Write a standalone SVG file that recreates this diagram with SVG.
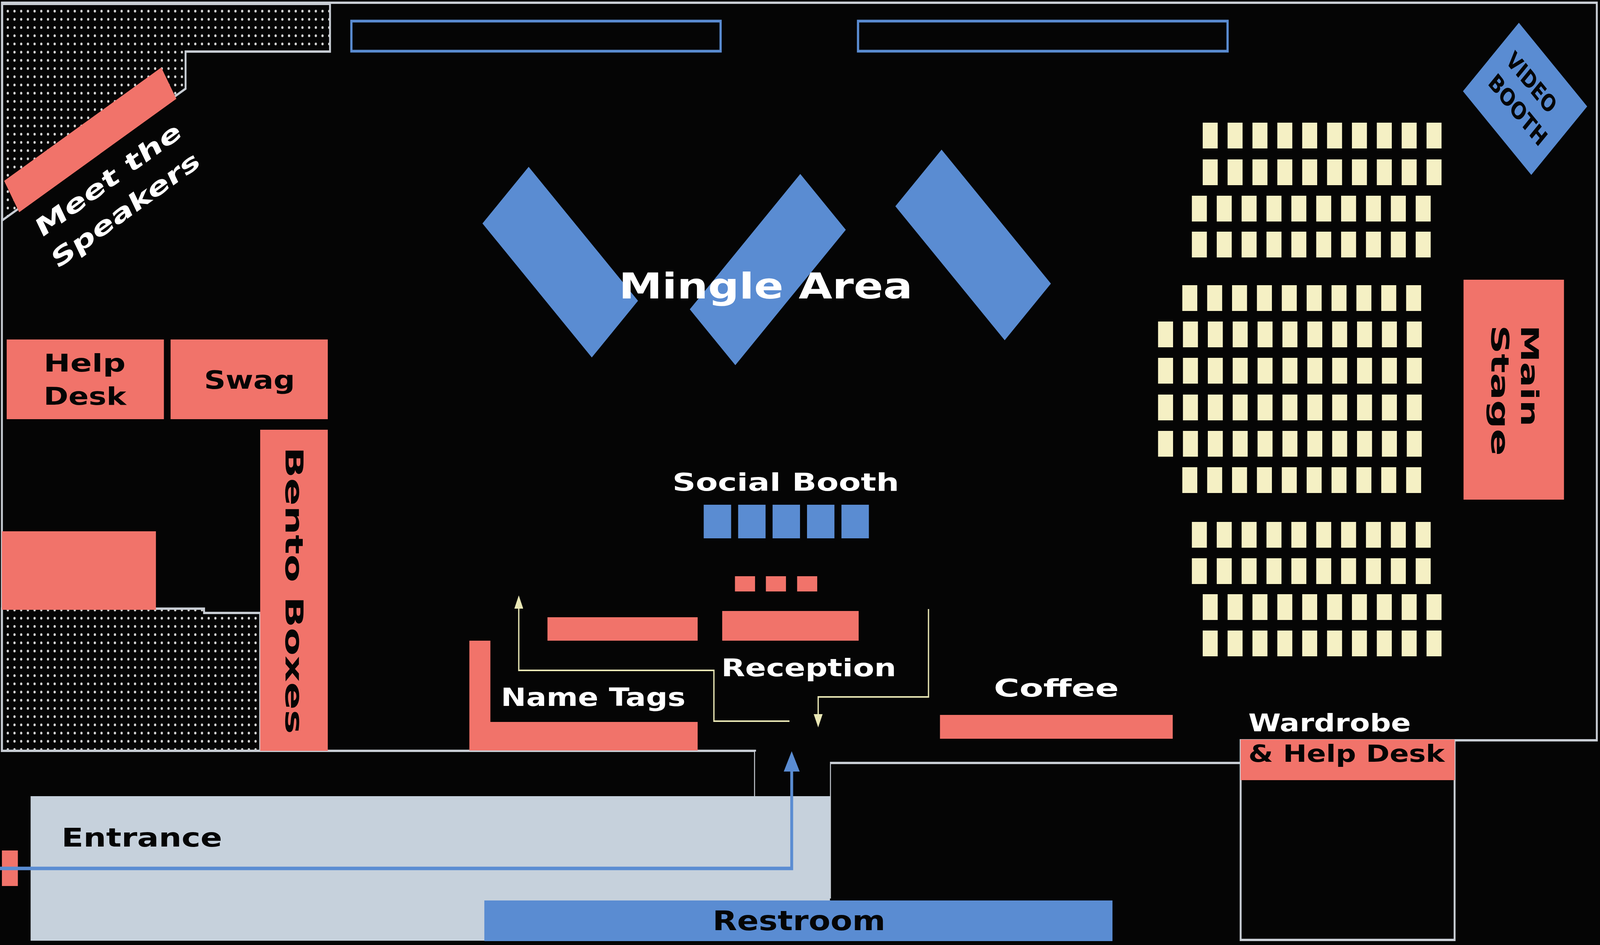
<svg xmlns="http://www.w3.org/2000/svg" xmlns:xlink="http://www.w3.org/1999/xlink" width="5018" height="2419" viewBox="0 0 5018 2419" preserveAspectRatio="none">
<defs>
<style>
svg{width:100vw;height:100vh;background:#050505}
.pink{fill:#F1736A}
.blue{fill:#5A8CD2}
.chair{fill:#F5F0C4}
.wall{fill:none;stroke:#C8CDD4;stroke-width:6}
.dotted{fill:url(#dots);stroke:#C8CDD4;stroke-width:6}
.frame{fill:none;stroke:#5A8CD2;stroke-width:7}
.lbl{font-family:"DejaVu Sans","Liberation Sans",sans-serif;font-weight:bold}
.w{fill:#FFFFFF}
.k{fill:#050505}
.path-blue{fill:none;stroke:#5A8CD2;stroke-width:9}
.path-yel{fill:none;stroke:#E9E7B5;stroke-width:4}
</style>
<pattern id="dots" patternUnits="userSpaceOnUse" x="14" y="18" width="21" height="21">
<rect width="21" height="21" fill="#050505"/>
<circle cx="10.5" cy="10.5" r="3.5" fill="#D6D6D6"/>
</pattern>
<marker id="arrowBlue" markerUnits="userSpaceOnUse" viewBox="0 0 52 50" markerWidth="52" markerHeight="50" refX="2" refY="25" orient="auto">
<path d="M0,0 L52,25 L0,50 Z" fill="#5A8CD2"/>
</marker>
<marker id="arrowYel" markerUnits="userSpaceOnUse" viewBox="0 0 34 28" markerWidth="34" markerHeight="28" refX="1" refY="14" orient="auto">
<path d="M0,0 L34,14 L0,28 Z" fill="#E9E7B5"/>
</marker>
<g id="row10">
<rect class="chair" x="0" y="0" width="47" height="66"/><rect class="chair" x="78" y="0" width="47" height="66"/><rect class="chair" x="156" y="0" width="47" height="66"/><rect class="chair" x="234" y="0" width="47" height="66"/><rect class="chair" x="312" y="0" width="47" height="66"/><rect class="chair" x="390" y="0" width="47" height="66"/><rect class="chair" x="468" y="0" width="47" height="66"/><rect class="chair" x="546" y="0" width="47" height="66"/><rect class="chair" x="624" y="0" width="47" height="66"/><rect class="chair" x="702" y="0" width="47" height="66"/>
</g>
<g id="row11">
<use href="#row10" xlink:href="#row10"/><rect class="chair" x="780" y="0" width="47" height="66"/>
</g>
</defs>

<rect x="0" y="0" width="5018" height="2419" fill="#050505"/>

<g id="walls">
<polygon class="dotted" points="7,10 1035,10 1035,132 582,132 582,227 7,564"/>
<polygon class="dotted" points="6,1558 640,1558 640,1569 816,1569 816,1922 6,1922"/>
<path class="wall" d="M3,7 H5008 V1895 H4562 M3891,1953 H2603 V2300 M2368,2038 V1922 H6 V7"/>
<rect class="wall" x="3891" y="1895" width="671" height="511"/>
</g>

<g id="entrance-corridor">
<rect x="96" y="2038" width="2507" height="370" fill="#C6D1DC"/>
<rect x="2368" y="1924" width="235" height="114" fill="#050505"/>
<text class="lbl k" x="193" y="2167" font-size="66" textLength="504" lengthAdjust="spacingAndGlyphs">Entrance</text>
</g>

<g id="entrance-marker">
<rect class="pink" x="6" y="2177" width="50" height="91"/>
</g>

<g id="restroom">
<rect class="blue" x="1519" y="2305" width="1970" height="104"/>
<text class="lbl k" x="2235" y="2381" font-size="70" textLength="542" lengthAdjust="spacingAndGlyphs">Restroom</text>
</g>

<g id="screen-left"><rect class="frame" x="1102" y="54" width="1158" height="77"/></g>
<g id="screen-right"><rect class="frame" x="2691" y="54" width="1159" height="77"/></g>

<g id="meet-the-speakers">
<rect class="pink" x="-286" y="-46.5" width="572" height="93" transform="translate(283,358) rotate(-30.5)"/>
<g transform="translate(129,610) rotate(-30.5)">
<text class="lbl w" x="0" y="0" font-size="66" textLength="516" lengthAdjust="spacingAndGlyphs">Meet the</text>
<text class="lbl w" x="2.5" y="94" font-size="66" textLength="525" lengthAdjust="spacingAndGlyphs">Speakers</text>
</g>
</g>

<g id="mingle-area">
<rect class="blue" x="-242.5" y="-102.5" width="485" height="205" transform="translate(1757,671) rotate(45)"/>
<rect class="blue" x="-245" y="-101" width="490" height="202" transform="translate(2408,690) rotate(-45)"/>
<rect class="blue" x="-242.5" y="-102.5" width="485" height="205" transform="translate(3052,627) rotate(45)"/>
<text class="lbl w" x="1941" y="764" font-size="90" textLength="921" lengthAdjust="spacingAndGlyphs">Mingle Area</text>
</g>

<g id="video-booth">
<rect class="blue" x="-151.5" y="-124" width="303" height="248" transform="translate(4783,253) rotate(45)"/>
<g transform="translate(4783,253) rotate(45)">
<text class="lbl k" x="-15" y="-23" font-size="60" text-anchor="middle" textLength="193" lengthAdjust="spacingAndGlyphs">VIDEO</text>
<text class="lbl k" x="4" y="57" font-size="60" text-anchor="middle" textLength="231" lengthAdjust="spacingAndGlyphs">BOOTH</text>
</g>
</g>

<g id="seating">
<use href="#row10" xlink:href="#row10" x="3772" y="314"/>
<use href="#row10" xlink:href="#row10" x="3772" y="408"/>
<use href="#row10" xlink:href="#row10" x="3738" y="501"/>
<use href="#row10" xlink:href="#row10" x="3738" y="593"/>
<use href="#row10" xlink:href="#row10" x="3708" y="730"/>
<use href="#row11" xlink:href="#row11" x="3632" y="823"/>
<use href="#row11" xlink:href="#row11" x="3632" y="916"/>
<use href="#row11" xlink:href="#row11" x="3632" y="1010"/>
<use href="#row11" xlink:href="#row11" x="3632" y="1103"/>
<use href="#row10" xlink:href="#row10" x="3708" y="1196"/>
<use href="#row10" xlink:href="#row10" x="3738" y="1336"/>
<use href="#row10" xlink:href="#row10" x="3738" y="1429"/>
<use href="#row10" xlink:href="#row10" x="3772" y="1521"/>
<use href="#row10" xlink:href="#row10" x="3772" y="1614"/>
</g>

<g id="main-stage">
<rect class="pink" x="4590" y="716" width="315" height="563"/>
<text class="lbl k" font-size="76" transform="translate(4770,832) rotate(90)" textLength="260" lengthAdjust="spacingAndGlyphs">Main</text>
<text class="lbl k" font-size="76" transform="translate(4678,832) rotate(90)" textLength="335" lengthAdjust="spacingAndGlyphs">Stage</text>
</g>

<g id="help-desk">
<rect class="pink" x="21" y="869" width="493" height="204"/>
<text class="lbl k" x="137" y="951" font-size="62" textLength="257" lengthAdjust="spacingAndGlyphs">Help</text>
<text class="lbl k" x="137" y="1036" font-size="62" textLength="259" lengthAdjust="spacingAndGlyphs">Desk</text>
</g>

<g id="swag">
<rect class="pink" x="535" y="869" width="493" height="204"/>
<text class="lbl k" x="640" y="995" font-size="64" textLength="285" lengthAdjust="spacingAndGlyphs">Swag</text>
</g>

<g id="bento-boxes">
<rect class="pink" x="816" y="1100" width="212" height="822"/>
<text class="lbl k" font-size="76" transform="translate(896,1144) rotate(90)" textLength="735" lengthAdjust="spacingAndGlyphs">Bento Boxes</text>
</g>

<g id="side-counter">
<rect class="pink" x="6" y="1360" width="483" height="201"/>
</g>

<g id="social-booth">
<text class="lbl w" x="2109" y="1256" font-size="62" textLength="711" lengthAdjust="spacingAndGlyphs">Social Booth</text>
<rect class="blue" x="2207" y="1292" width="86" height="86"/>
<rect class="blue" x="2315" y="1292" width="86" height="86"/>
<rect class="blue" x="2423" y="1292" width="86" height="86"/>
<rect class="blue" x="2531" y="1292" width="86" height="86"/>
<rect class="blue" x="2639" y="1292" width="86" height="86"/>
</g>

<g id="reception">
<rect class="pink" x="2305" y="1475" width="63" height="39"/>
<rect class="pink" x="2402" y="1475" width="63" height="39"/>
<rect class="pink" x="2500" y="1475" width="63" height="39"/>
<rect class="pink" x="2265" y="1564" width="428" height="76"/>
<rect class="pink" x="1717" y="1580" width="471" height="60"/>
<text class="lbl w" x="2262" y="1731" font-size="62" textLength="549" lengthAdjust="spacingAndGlyphs">Reception</text>
</g>

<g id="name-tags">
<path class="pink" d="M1472,1640 H1538 V1848 H2188 V1921 H1472 Z"/>
<text class="lbl w" x="1571" y="1807" font-size="64" textLength="579" lengthAdjust="spacingAndGlyphs">Name Tags</text>
</g>

<g id="coffee">
<rect class="pink" x="2948" y="1830" width="730" height="61"/>
<text class="lbl w" x="3117" y="1783" font-size="63" textLength="392" lengthAdjust="spacingAndGlyphs">Coffee</text>
</g>

<g id="wardrobe">
<rect class="pink" x="3891" y="1893" width="671" height="104"/>
<text class="lbl w" x="3915" y="1872" font-size="63" textLength="510" lengthAdjust="spacingAndGlyphs">Wardrobe</text>
<text class="lbl k" x="3915" y="1950" font-size="60" textLength="616" lengthAdjust="spacingAndGlyphs">&amp; Help Desk</text>
</g>

<g id="connectors">
<path class="path-blue" d="M0,2223 H2483 V1973" marker-end="url(#arrowBlue)"/>
<path class="path-yel" d="M2476,1846 H2239 V1716 H1627 V1557" marker-end="url(#arrowYel)"/>
<path class="path-yel" d="M2912,1559 V1784 H2566 V1829" marker-end="url(#arrowYel)"/>
</g>
</svg>
